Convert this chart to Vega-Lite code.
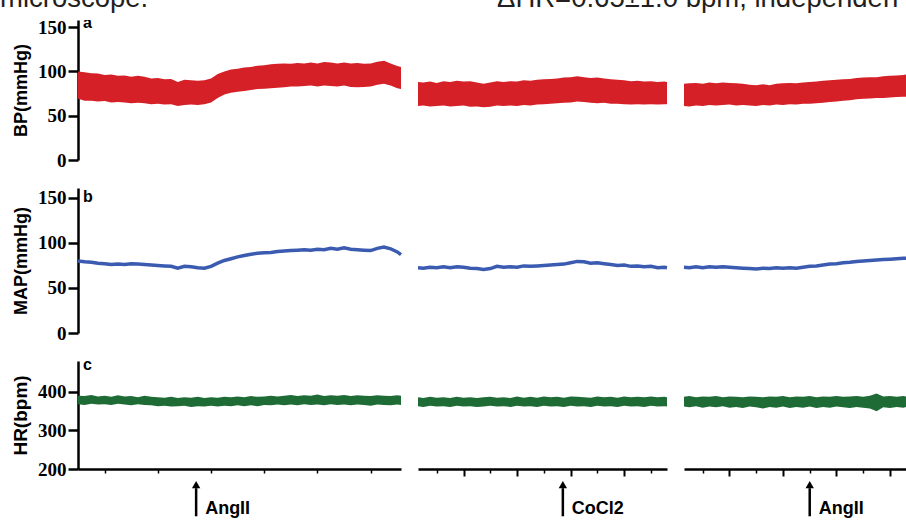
{
"$schema":"https://vega.github.io/schema/vega-lite/v6.json",
"padding":0,
"spacing":1,
"config":{
 "font":"Liberation Sans",
 "view":{"stroke":null},
 "axis":{"grid":false,"domainColor":"black","tickColor":"black","labelColor":"black","titleColor":"black"},
 "axisY":{"domainWidth":2.5,"tickWidth":2.5,"tickSize":10,"labelFont":"Liberation Serif","labelFontWeight":"bold","labelFontSize":19,"labelPadding":2,"titleFont":"Liberation Sans","titleFontWeight":"bold","titleFontSize":18,"titlePadding":7},
 "axisX":{"domainWidth":2.5}
},
"datasets":{
"ann":[{"s":1,"t":4.44,"lab":"AngII"},{"s":2,"t":5.71,"lab":"CoCl2"},{"s":3,"t":5,"lab":"AngII"}],
"head":[{"hx":0,"txt":"microscope."},{"hx":0.5486,"txt":"ΔHR=0.65±1.0  bpm,  independen"}],
"tr":[
{"s":1,"t":0,"bh":100,"bl":69,"m":80,"hl":368,"hh":390},
{"s":1,"t":0.25,"bh":99,"bl":67,"m":79,"hl":366,"hh":389},
{"s":1,"t":0.5,"bh":98,"bl":67,"m":78.5,"hl":369,"hh":392},
{"s":1,"t":0.75,"bh":97.5,"bl":66,"m":77.5,"hl":367,"hh":388},
{"s":1,"t":1,"bh":96,"bl":66.5,"m":77,"hl":368,"hh":390},
{"s":1,"t":1.25,"bh":96.5,"bl":65,"m":76,"hl":366,"hh":387},
{"s":1,"t":1.5,"bh":95,"bl":65.5,"m":76.5,"hl":369,"hh":391},
{"s":1,"t":1.75,"bh":95.5,"bl":65,"m":76,"hl":367,"hh":388},
{"s":1,"t":2,"bh":94,"bl":64,"m":77,"hl":365,"hh":389},
{"s":1,"t":2.25,"bh":95,"bl":64.5,"m":76.5,"hl":368,"hh":386},
{"s":1,"t":2.5,"bh":94,"bl":64,"m":76,"hl":366,"hh":390},
{"s":1,"t":2.75,"bh":92,"bl":63,"m":75.5,"hl":365,"hh":387},
{"s":1,"t":3,"bh":92.5,"bl":63.5,"m":75,"hl":363,"hh":386},
{"s":1,"t":3.25,"bh":91,"bl":62.5,"m":74.5,"hl":364,"hh":385},
{"s":1,"t":3.5,"bh":91.5,"bl":63,"m":74,"hl":362,"hh":387},
{"s":1,"t":3.75,"bh":88,"bl":61,"m":72,"hl":363,"hh":384},
{"s":1,"t":4,"bh":90.5,"bl":62,"m":74,"hl":364,"hh":386},
{"s":1,"t":4.25,"bh":90,"bl":62.5,"m":73.5,"hl":361,"hh":385},
{"s":1,"t":4.5,"bh":89.5,"bl":62,"m":72.5,"hl":363,"hh":387},
{"s":1,"t":4.75,"bh":90,"bl":63,"m":72,"hl":362,"hh":384},
{"s":1,"t":5,"bh":92,"bl":65,"m":74,"hl":364,"hh":386},
{"s":1,"t":5.25,"bh":97,"bl":70,"m":77.5,"hl":362,"hh":385},
{"s":1,"t":5.5,"bh":100,"bl":74,"m":80.5,"hl":364,"hh":387},
{"s":1,"t":5.75,"bh":102,"bl":76,"m":82.5,"hl":363,"hh":386},
{"s":1,"t":6,"bh":103,"bl":77,"m":84.5,"hl":365,"hh":388},
{"s":1,"t":6.25,"bh":104.5,"bl":78,"m":86,"hl":363,"hh":386},
{"s":1,"t":6.5,"bh":105,"bl":79,"m":87.5,"hl":365,"hh":389},
{"s":1,"t":6.75,"bh":106.5,"bl":80,"m":88.5,"hl":363,"hh":387},
{"s":1,"t":7,"bh":107,"bl":80.5,"m":89,"hl":366,"hh":388},
{"s":1,"t":7.25,"bh":108,"bl":81,"m":89.5,"hl":365,"hh":390},
{"s":1,"t":7.5,"bh":108.5,"bl":81.5,"m":90.5,"hl":367,"hh":388},
{"s":1,"t":7.75,"bh":109,"bl":82,"m":91,"hl":365,"hh":390},
{"s":1,"t":8,"bh":108.5,"bl":83,"m":91.5,"hl":367,"hh":392},
{"s":1,"t":8.25,"bh":109.5,"bl":83,"m":92,"hl":365,"hh":389},
{"s":1,"t":8.5,"bh":109,"bl":83.5,"m":92.5,"hl":368,"hh":391},
{"s":1,"t":8.75,"bh":110,"bl":84,"m":92,"hl":366,"hh":390},
{"s":1,"t":9,"bh":109,"bl":83,"m":93,"hl":367,"hh":393},
{"s":1,"t":9.25,"bh":110.5,"bl":84,"m":92.5,"hl":365,"hh":389},
{"s":1,"t":9.5,"bh":110,"bl":83.5,"m":94,"hl":368,"hh":391},
{"s":1,"t":9.75,"bh":109,"bl":83,"m":93,"hl":366,"hh":390},
{"s":1,"t":10,"bh":110,"bl":84,"m":94.5,"hl":367,"hh":392},
{"s":1,"t":10.25,"bh":109,"bl":82.5,"m":93,"hl":365,"hh":389},
{"s":1,"t":10.5,"bh":109.5,"bl":82,"m":92.5,"hl":367,"hh":391},
{"s":1,"t":10.75,"bh":108.5,"bl":82.5,"m":92,"hl":366,"hh":390},
{"s":1,"t":11,"bh":109,"bl":83,"m":91.5,"hl":364,"hh":389},
{"s":1,"t":11.25,"bh":111,"bl":85,"m":94,"hl":367,"hh":391},
{"s":1,"t":11.5,"bh":112,"bl":86,"m":95.5,"hl":366,"hh":390},
{"s":1,"t":11.75,"bh":109,"bl":84,"m":93.5,"hl":365,"hh":389},
{"s":1,"t":12,"bh":106,"bl":81,"m":90,"hl":367,"hh":391},
{"s":1,"t":12.14,"bh":105,"bl":80,"m":87,"hl":366,"hh":390},
{"s":2,"t":0.3,"bh":88,"bl":61,"m":72.5,"hl":363,"hh":386},
{"s":2,"t":0.5,"bh":87.5,"bl":61.5,"m":72,"hl":361,"hh":384},
{"s":2,"t":0.75,"bh":88.5,"bl":60.5,"m":73,"hl":364,"hh":387},
{"s":2,"t":1,"bh":87,"bl":61,"m":72.5,"hl":362,"hh":385},
{"s":2,"t":1.25,"bh":89,"bl":61.5,"m":73.5,"hl":363,"hh":386},
{"s":2,"t":1.5,"bh":88,"bl":60.5,"m":72.5,"hl":361,"hh":384},
{"s":2,"t":1.75,"bh":89.5,"bl":61,"m":73.5,"hl":364,"hh":387},
{"s":2,"t":2,"bh":88.5,"bl":61.5,"m":73,"hl":362,"hh":385},
{"s":2,"t":2.25,"bh":89,"bl":60,"m":72,"hl":363,"hh":386},
{"s":2,"t":2.5,"bh":87.5,"bl":60.5,"m":71.5,"hl":361,"hh":384},
{"s":2,"t":2.75,"bh":86,"bl":59.5,"m":70.5,"hl":362,"hh":386},
{"s":2,"t":3,"bh":87.5,"bl":60,"m":71.5,"hl":364,"hh":387},
{"s":2,"t":3.25,"bh":89,"bl":61.5,"m":74,"hl":362,"hh":385},
{"s":2,"t":3.5,"bh":88,"bl":61,"m":73,"hl":363,"hh":386},
{"s":2,"t":3.75,"bh":89,"bl":61.5,"m":73.5,"hl":361,"hh":384},
{"s":2,"t":4,"bh":88.5,"bl":61,"m":73,"hl":364,"hh":388},
{"s":2,"t":4.25,"bh":90,"bl":62,"m":74.5,"hl":362,"hh":385},
{"s":2,"t":4.5,"bh":89.5,"bl":61.5,"m":74,"hl":363,"hh":387},
{"s":2,"t":4.75,"bh":90.5,"bl":62.5,"m":74.5,"hl":361,"hh":385},
{"s":2,"t":5,"bh":91,"bl":63,"m":75,"hl":364,"hh":388},
{"s":2,"t":5.25,"bh":91.5,"bl":63.5,"m":75.5,"hl":362,"hh":386},
{"s":2,"t":5.5,"bh":92,"bl":64,"m":76,"hl":363,"hh":387},
{"s":2,"t":5.75,"bh":93,"bl":64.5,"m":76.5,"hl":361,"hh":385},
{"s":2,"t":6,"bh":93.5,"bl":65,"m":78,"hl":364,"hh":388},
{"s":2,"t":6.25,"bh":94.5,"bl":66,"m":79.5,"hl":362,"hh":387},
{"s":2,"t":6.5,"bh":93.5,"bl":65.5,"m":79,"hl":363,"hh":386},
{"s":2,"t":6.75,"bh":92.5,"bl":64.5,"m":77.5,"hl":361,"hh":385},
{"s":2,"t":7,"bh":93,"bl":64,"m":78,"hl":364,"hh":388},
{"s":2,"t":7.25,"bh":92,"bl":64.5,"m":77,"hl":362,"hh":386},
{"s":2,"t":7.5,"bh":91,"bl":63.5,"m":76,"hl":363,"hh":387},
{"s":2,"t":7.75,"bh":90.5,"bl":63.5,"m":75,"hl":361,"hh":385},
{"s":2,"t":8,"bh":90,"bl":63,"m":75.5,"hl":364,"hh":388},
{"s":2,"t":8.25,"bh":89,"bl":62.5,"m":74,"hl":362,"hh":386},
{"s":2,"t":8.5,"bh":89.5,"bl":63,"m":74.5,"hl":363,"hh":387},
{"s":2,"t":8.75,"bh":88.5,"bl":62.5,"m":73.5,"hl":361,"hh":386},
{"s":2,"t":9,"bh":89,"bl":63,"m":74,"hl":364,"hh":388},
{"s":2,"t":9.25,"bh":88,"bl":62.5,"m":72.5,"hl":362,"hh":386},
{"s":2,"t":9.5,"bh":88.5,"bl":63,"m":73,"hl":363,"hh":387},
{"s":2,"t":9.6,"bh":88,"bl":63,"m":72.5,"hl":362,"hh":386},
{"s":3,"t":0.3,"bh":86,"bl":61,"m":73,"hl":362,"hh":387},
{"s":3,"t":0.5,"bh":86.5,"bl":60.5,"m":72.5,"hl":360,"hh":389},
{"s":3,"t":0.75,"bh":87,"bl":61.5,"m":73.5,"hl":363,"hh":386},
{"s":3,"t":1,"bh":86,"bl":61,"m":72.5,"hl":359,"hh":388},
{"s":3,"t":1.25,"bh":87.5,"bl":62,"m":73.5,"hl":362,"hh":387},
{"s":3,"t":1.5,"bh":86.5,"bl":61.5,"m":73,"hl":360,"hh":389},
{"s":3,"t":1.75,"bh":87.5,"bl":62,"m":73.5,"hl":363,"hh":386},
{"s":3,"t":2,"bh":87,"bl":62.5,"m":73,"hl":359,"hh":388},
{"s":3,"t":2.25,"bh":86.5,"bl":61.5,"m":72.5,"hl":361,"hh":387},
{"s":3,"t":2.5,"bh":86,"bl":62,"m":72,"hl":358,"hh":386},
{"s":3,"t":2.75,"bh":85,"bl":61.5,"m":71.5,"hl":362,"hh":388},
{"s":3,"t":3,"bh":84.5,"bl":61,"m":71,"hl":360,"hh":387},
{"s":3,"t":3.25,"bh":85.5,"bl":62,"m":72,"hl":357,"hh":386},
{"s":3,"t":3.5,"bh":84.5,"bl":61.5,"m":71.5,"hl":361,"hh":388},
{"s":3,"t":3.75,"bh":86,"bl":62.5,"m":72.5,"hl":359,"hh":387},
{"s":3,"t":4,"bh":86.5,"bl":62,"m":72,"hl":362,"hh":389},
{"s":3,"t":4.25,"bh":87,"bl":63,"m":72.5,"hl":358,"hh":386},
{"s":3,"t":4.5,"bh":86.5,"bl":62.5,"m":72,"hl":361,"hh":388},
{"s":3,"t":4.75,"bh":87.5,"bl":63.5,"m":73,"hl":359,"hh":387},
{"s":3,"t":5,"bh":88,"bl":63.5,"m":74,"hl":362,"hh":389},
{"s":3,"t":5.25,"bh":88.5,"bl":64,"m":74.5,"hl":358,"hh":386},
{"s":3,"t":5.5,"bh":89.5,"bl":64.5,"m":75.5,"hl":361,"hh":388},
{"s":3,"t":5.75,"bh":90,"bl":65.5,"m":76.5,"hl":359,"hh":387},
{"s":3,"t":6,"bh":90.5,"bl":66,"m":77,"hl":362,"hh":389},
{"s":3,"t":6.25,"bh":91,"bl":67,"m":78,"hl":360,"hh":387},
{"s":3,"t":6.5,"bh":91.5,"bl":67.5,"m":78.5,"hl":358,"hh":388},
{"s":3,"t":6.75,"bh":92.5,"bl":68.5,"m":79.5,"hl":361,"hh":389},
{"s":3,"t":7,"bh":93,"bl":69,"m":80,"hl":359,"hh":387},
{"s":3,"t":7.25,"bh":93.5,"bl":69.5,"m":80.5,"hl":357,"hh":390},
{"s":3,"t":7.5,"bh":93.5,"bl":70,"m":81,"hl":350,"hh":396},
{"s":3,"t":7.75,"bh":94.5,"bl":70,"m":81.5,"hl":360,"hh":388},
{"s":3,"t":8,"bh":95,"bl":70.5,"m":82,"hl":358,"hh":389},
{"s":3,"t":8.25,"bh":95.5,"bl":71,"m":82.5,"hl":361,"hh":387},
{"s":3,"t":8.5,"bh":96,"bl":71.5,"m":83,"hl":359,"hh":389},
{"s":3,"t":8.6,"bh":96.5,"bl":71.5,"m":83,"hl":361,"hh":388}
]},
"vconcat":[
{"width":906,"height":17,"data":{"name":"head"},
 "mark":{"type":"text","clip":true,"align":"left","baseline":"alphabetic","font":"Liberation Sans","fontSize":27.5,"color":"#231f20"},
 "encoding":{"x":{"field":"hx","type":"quantitative","scale":{"domain":[0,1],"nice":false},"axis":null},
  "y":{"datum":0.56,"type":"quantitative","scale":{"domain":[0,1],"nice":false},"axis":null},
  "text":{"field":"txt"}}},
{"columns":4,"bounds":"flush","spacing":{"row":28,"column":17},"concat":[
 {"width":61,"height":1,"data":{"values":[]},"mark":"point"},
 {"width":323,"height":140,"data":{"name":"tr"},"transform":[{"filter":"datum.s==1"}],"layer":[
  {"mark":{"type":"area","color":"#d52027"},"encoding":{"x":{"field":"t","type":"quantitative","scale":{"domain":[0,12.14],"nice":false,"zero":false},"axis":null},"y":{"field":"bh","type":"quantitative","scale":{"domain":[0,158],"nice":false},"axis":{"values":[0,50,100,150],"title":"BP(mmHg)"}},"y2":{"field":"bl"}}},
  {"data":{"values":[{"p":"a"}]},"mark":{"type":"text","clip":true,"align":"left","baseline":"alphabetic","dx":5,"font":"Liberation Sans","fontWeight":"bold","fontSize":16,"color":"black"},"encoding":{"x":{"datum":0,"type":"quantitative","axis":null},"y":{"datum":149.5,"type":"quantitative"},"text":{"field":"p"}}}
 ]},
 {"width":249,"height":140,"data":{"name":"tr"},"transform":[{"filter":"datum.s==2"}],
  "mark":{"type":"area","color":"#d52027"},"encoding":{"x":{"field":"t","type":"quantitative","scale":{"domain":[0.3,9.6],"nice":false,"zero":false},"axis":null},"y":{"field":"bh","type":"quantitative","scale":{"domain":[0,158],"nice":false},"axis":null},"y2":{"field":"bl"}}},
 {"width":222,"height":140,"data":{"name":"tr"},"transform":[{"filter":"datum.s==3"}],
  "mark":{"type":"area","color":"#d52027"},"encoding":{"x":{"field":"t","type":"quantitative","scale":{"domain":[0.3,8.6],"nice":false,"zero":false},"axis":null},"y":{"field":"bh","type":"quantitative","scale":{"domain":[0,158],"nice":false},"axis":null},"y2":{"field":"bl"}}},
 {"width":61,"height":1,"data":{"values":[]},"mark":"point"},
 {"width":323,"height":145,"data":{"name":"tr"},"transform":[{"filter":"datum.s==1"}],"layer":[
  {"mark":{"type":"line","color":"#3a5bb0","strokeWidth":3.5},"encoding":{"x":{"field":"t","type":"quantitative","scale":{"domain":[0,12.14],"nice":false,"zero":false},"axis":null},"y":{"field":"m","type":"quantitative","scale":{"domain":[0,161],"nice":false},"axis":{"values":[0,50,100,150],"title":"MAP(mmHg)"}}}},
  {"data":{"values":[{"p":"b"}]},"mark":{"type":"text","clip":true,"align":"left","baseline":"alphabetic","dx":5,"font":"Liberation Sans","fontWeight":"bold","fontSize":16,"color":"black"},"encoding":{"x":{"datum":0,"type":"quantitative","axis":null},"y":{"datum":146,"type":"quantitative"},"text":{"field":"p"}}}
 ]},
 {"width":249,"height":145,"data":{"name":"tr"},"transform":[{"filter":"datum.s==2"}],
  "mark":{"type":"line","color":"#3a5bb0","strokeWidth":3.5},"encoding":{"x":{"field":"t","type":"quantitative","scale":{"domain":[0.3,9.6],"nice":false,"zero":false},"axis":null},"y":{"field":"m","type":"quantitative","scale":{"domain":[0,161],"nice":false},"axis":null}}},
 {"width":222,"height":145,"data":{"name":"tr"},"transform":[{"filter":"datum.s==3"}],
  "mark":{"type":"line","color":"#3a5bb0","strokeWidth":3.5},"encoding":{"x":{"field":"t","type":"quantitative","scale":{"domain":[0.3,8.6],"nice":false,"zero":false},"axis":null},"y":{"field":"m","type":"quantitative","scale":{"domain":[0,161],"nice":false},"axis":null}}},
 {"width":61,"height":1,"data":{"values":[]},"mark":"point"},
 {"width":323,"height":108,"data":{"name":"tr"},"transform":[{"filter":"datum.s==1"}],"layer":[
  {"mark":{"type":"area","color":"#1e6b35"},"encoding":{"x":{"field":"t","type":"quantitative","scale":{"domain":[0,12.14],"nice":false,"zero":false},"axis":{"values":[1,2,3,4,5,6,7,8,9,10,11,12],"labels":false,"title":null,"tickSize":{"condition":{"test":"datum.value % 2 === 0","value":7},"value":4},"tickWidth":{"condition":{"test":"datum.value % 2 === 0","value":2},"value":1.5}}},"y":{"field":"hh","type":"quantitative","scale":{"domain":[200,480],"nice":false,"zero":false},"axis":{"values":[200,300,400],"title":"HR(bpm)","titleFontSize":19}},"y2":{"field":"hl"}}},
  {"data":{"values":[{"p":"c"}]},"mark":{"type":"text","clip":true,"align":"left","baseline":"alphabetic","dx":5,"font":"Liberation Sans","fontWeight":"bold","fontSize":16,"color":"black"},"encoding":{"x":{"datum":0,"type":"quantitative"},"y":{"datum":456,"type":"quantitative"},"text":{"field":"p"}}}
 ]},
 {"width":249,"height":108,"data":{"name":"tr"},"transform":[{"filter":"datum.s==2"}],
  "mark":{"type":"area","color":"#1e6b35"},"encoding":{"x":{"field":"t","type":"quantitative","scale":{"domain":[0.3,9.6],"nice":false,"zero":false},"axis":{"values":[1,2,3,4,5,6,7,8,9],"labels":false,"title":null,"tickSize":{"condition":{"test":"datum.value % 2 === 0","value":7},"value":4},"tickWidth":{"condition":{"test":"datum.value % 2 === 0","value":2},"value":1.5}}},"y":{"field":"hh","type":"quantitative","scale":{"domain":[200,480],"nice":false,"zero":false},"axis":null},"y2":{"field":"hl"}}},
 {"width":222,"height":108,"data":{"name":"tr"},"transform":[{"filter":"datum.s==3"}],
  "mark":{"type":"area","color":"#1e6b35"},"encoding":{"x":{"field":"t","type":"quantitative","scale":{"domain":[0.3,8.6],"nice":false,"zero":false},"axis":{"values":[1,2,3,4,5,6,7,8],"labels":false,"title":null,"tickSize":{"condition":{"test":"datum.value % 2 === 0","value":7},"value":4},"tickWidth":{"condition":{"test":"datum.value % 2 === 0","value":2},"value":1.5}}},"y":{"field":"hh","type":"quantitative","scale":{"domain":[200,480],"nice":false,"zero":false},"axis":null},"y2":{"field":"hl"}}}
]},
{"spacing":17,"hconcat":[
 {"width":61,"height":1,"data":{"values":[]},"mark":"point"},
 {"width":323,"height":36,"data":{"name":"ann"},"transform":[{"filter":"datum.s==1"}],"layer":[
  {"mark":{"type":"rule","color":"black","strokeWidth":2.5},"encoding":{"x":{"field":"t","type":"quantitative","scale":{"domain":[0,12.14],"nice":false,"zero":false},"axis":null},"y":{"datum":0.8,"type":"quantitative","scale":{"domain":[0,1],"nice":false},"axis":null},"y2":{"datum":0.02}}},
  {"mark":{"type":"point","shape":"triangle-up","filled":true,"color":"black","size":70,"opacity":1},"encoding":{"x":{"field":"t","type":"quantitative"},"y":{"datum":0.9,"type":"quantitative"}}},
  {"mark":{"type":"text","align":"left","baseline":"alphabetic","dx":9,"font":"Liberation Sans","fontWeight":"bold","fontSize":18,"color":"black"},"encoding":{"x":{"field":"t","type":"quantitative"},"y":{"datum":0.083,"type":"quantitative"},"text":{"field":"lab"}}}
 ]},
 {"width":249,"height":36,"data":{"name":"ann"},"transform":[{"filter":"datum.s==2"}],"layer":[
  {"mark":{"type":"rule","color":"black","strokeWidth":2.5},"encoding":{"x":{"field":"t","type":"quantitative","scale":{"domain":[0.3,9.6],"nice":false,"zero":false},"axis":null},"y":{"datum":0.8,"type":"quantitative","scale":{"domain":[0,1],"nice":false},"axis":null},"y2":{"datum":0.02}}},
  {"mark":{"type":"point","shape":"triangle-up","filled":true,"color":"black","size":70,"opacity":1},"encoding":{"x":{"field":"t","type":"quantitative"},"y":{"datum":0.9,"type":"quantitative"}}},
  {"mark":{"type":"text","align":"left","baseline":"alphabetic","dx":9,"font":"Liberation Sans","fontWeight":"bold","fontSize":18,"color":"black"},"encoding":{"x":{"field":"t","type":"quantitative"},"y":{"datum":0.083,"type":"quantitative"},"text":{"field":"lab"}}}
 ]},
 {"width":222,"height":36,"data":{"name":"ann"},"transform":[{"filter":"datum.s==3"}],"layer":[
  {"mark":{"type":"rule","color":"black","strokeWidth":2.5},"encoding":{"x":{"field":"t","type":"quantitative","scale":{"domain":[0.3,8.6],"nice":false,"zero":false},"axis":null},"y":{"datum":0.8,"type":"quantitative","scale":{"domain":[0,1],"nice":false},"axis":null},"y2":{"datum":0.02}}},
  {"mark":{"type":"point","shape":"triangle-up","filled":true,"color":"black","size":70,"opacity":1},"encoding":{"x":{"field":"t","type":"quantitative"},"y":{"datum":0.9,"type":"quantitative"}}},
  {"mark":{"type":"text","align":"left","baseline":"alphabetic","dx":9,"font":"Liberation Sans","fontWeight":"bold","fontSize":18,"color":"black"},"encoding":{"x":{"field":"t","type":"quantitative"},"y":{"datum":0.083,"type":"quantitative"},"text":{"field":"lab"}}}
 ]}
]}
]
}
